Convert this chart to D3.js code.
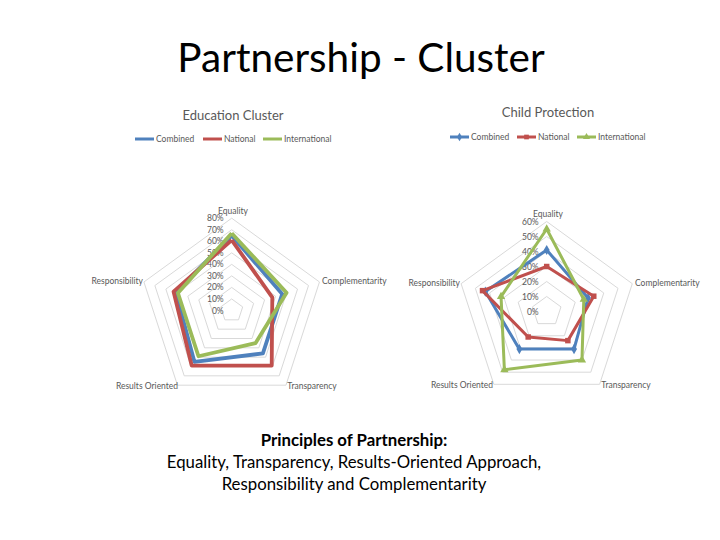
<!DOCTYPE html>
<html><head><meta charset="utf-8">
<script src="https://cdn.jsdelivr.net/npm/d3@7"></script>
<style>body{margin:0;background:#fff;}svg{display:block;font-family:Lato,"Open Sans",sans-serif;}</style>
</head><body>
<svg id="c" width="720" height="540"></svg>
<script>
const axes = ["Equality","Complementarity","Transparency","Results Oriented","Responsibility"];
const seriesNames = ["Combined","National","International"];
const colors = ["#4F81BD","#C0504D","#9BBB59"];

const eduCombined = [0.65, 0.46, 0.46, 0.55, 0.51];
const eduNational = [0.61, 0.37, 0.59, 0.59, 0.53];
const eduInternational = [0.67, 0.50, 0.35, 0.49, 0.49];
const eduTicks = [0,0.1,0.2,0.3,0.4,0.5,0.6,0.7,0.8];

const cpCombined = [0.41, 0.29, 0.31, 0.31, 0.43];
const cpNational = [0.30, 0.33, 0.24, 0.21, 0.45];
const cpInternational = [0.55, 0.26, 0.40, 0.48, 0.32];
const cpTicks = [0,0.1,0.2,0.3,0.4,0.5,0.6];

const svg = d3.select("#c");

svg.append("text").attr("x",361).attr("y",72).attr("text-anchor","middle")
  .attr("font-size",40.5).attr("fill","#000").text("Partnership - Cluster");

function radar(o){
  const g = svg.append("g");
  const r = d3.scaleLinear().domain([0, d3.max(o.ticks)]).range([0, o.R]);
  const ang = i => -Math.PI/2 + i*2*Math.PI/axes.length;
  const pt = (i,v) => [o.cx + r(v)*Math.cos(ang(i)), o.cy + r(v)*Math.sin(ang(i))];
  g.append("text").attr("x",o.titleX).attr("y",o.titleY).attr("text-anchor","middle")
    .attr("font-size",13).attr("fill","#595959").text(o.title);
  seriesNames.forEach((s,k)=>{
    const lx = o.legX[k];
    g.append("line").attr("x1",lx).attr("x2",lx+19).attr("y1",o.legY).attr("y2",o.legY)
      .attr("stroke",colors[k]).attr("stroke-width",3);
    if(o.markers){
      const mk = d3.symbol().type([d3.symbolDiamond,d3.symbolSquare,d3.symbolTriangle][k]).size(22);
      g.append("path").attr("d",mk()).attr("transform",`translate(${lx+9.5},${o.legY})`).attr("fill",colors[k]);
    }
    g.append("text").attr("x",lx+21).attr("y",o.legY+3).attr("font-size",8.5).attr("fill","#595959").text(s);
  });
  o.ticks.slice(1).forEach(t=>{
    g.append("path").attr("d", d3.line()(axes.map((a,i)=>pt(i,t)).concat([pt(0,t)])))
      .attr("fill","none").attr("stroke","#d9d9d9").attr("stroke-width",1);
  });
  o.ticks.forEach(t=>{
    g.append("text").attr("x",o.cx-8).attr("y",o.cy - r(t)+3).attr("text-anchor","end")
      .attr("font-size",8.5).attr("fill","#595959").text(d3.format(".0%")(t));
  });
  o.labelPos.forEach((p,i)=>{
    g.append("text").attr("x",p[0]).attr("y",p[1]).attr("text-anchor",p[2])
      .attr("font-size",8.5).attr("fill","#595959").text(axes[i]);
  });
  o.data.forEach((d,k)=>{
    const pts = d.map((v,i)=>pt(i,v));
    g.append("path").attr("d", d3.line()(pts.concat([pts[0]])))
      .attr("fill","none").attr("stroke",colors[k]).attr("stroke-width",o.markers?3:3.8)
      .attr("stroke-linejoin","round");
    if(o.markers){
      const mk = d3.symbol().type([d3.symbolDiamond,d3.symbolSquare,d3.symbolTriangle][k]).size(30);
      pts.forEach(p=>g.append("path").attr("d",mk()).attr("transform",`translate(${p[0]},${p[1]})`).attr("fill",colors[k]));
    }
  });
}

radar({cx:231.7, cy:310.5, R:92.3, ticks:eduTicks, title:"Education Cluster", titleX:233, titleY:120,
  legX:[135,203,263], legY:139, markers:false,
  data:[eduCombined,eduNational,eduInternational],
  labelPos:[[233,214,"middle"],[322,284,"start"],[312,389,"middle"],[147,389,"middle"],[143,284,"end"]]});

radar({cx:546.7, cy:311.5, R:90, ticks:cpTicks, title:"Child Protection", titleX:548, titleY:117,
  legX:[450,517,577], legY:137, markers:true,
  data:[cpCombined,cpNational,cpInternational],
  labelPos:[[548,217,"middle"],[635,286,"start"],[626,388,"middle"],[462,388,"middle"],[460,286,"end"]]});

const foot = svg.append("g").attr("text-anchor","middle").attr("fill","#000").attr("font-size",16.8);
foot.append("text").attr("x",354).attr("y",446).attr("font-weight","bold").text("Principles of Partnership:");
foot.append("text").attr("x",354).attr("y",468).text("Equality, Transparency, Results-Oriented Approach,");
foot.append("text").attr("x",354).attr("y",490).text("Responsibility and Complementarity");
</script>
</body></html>
